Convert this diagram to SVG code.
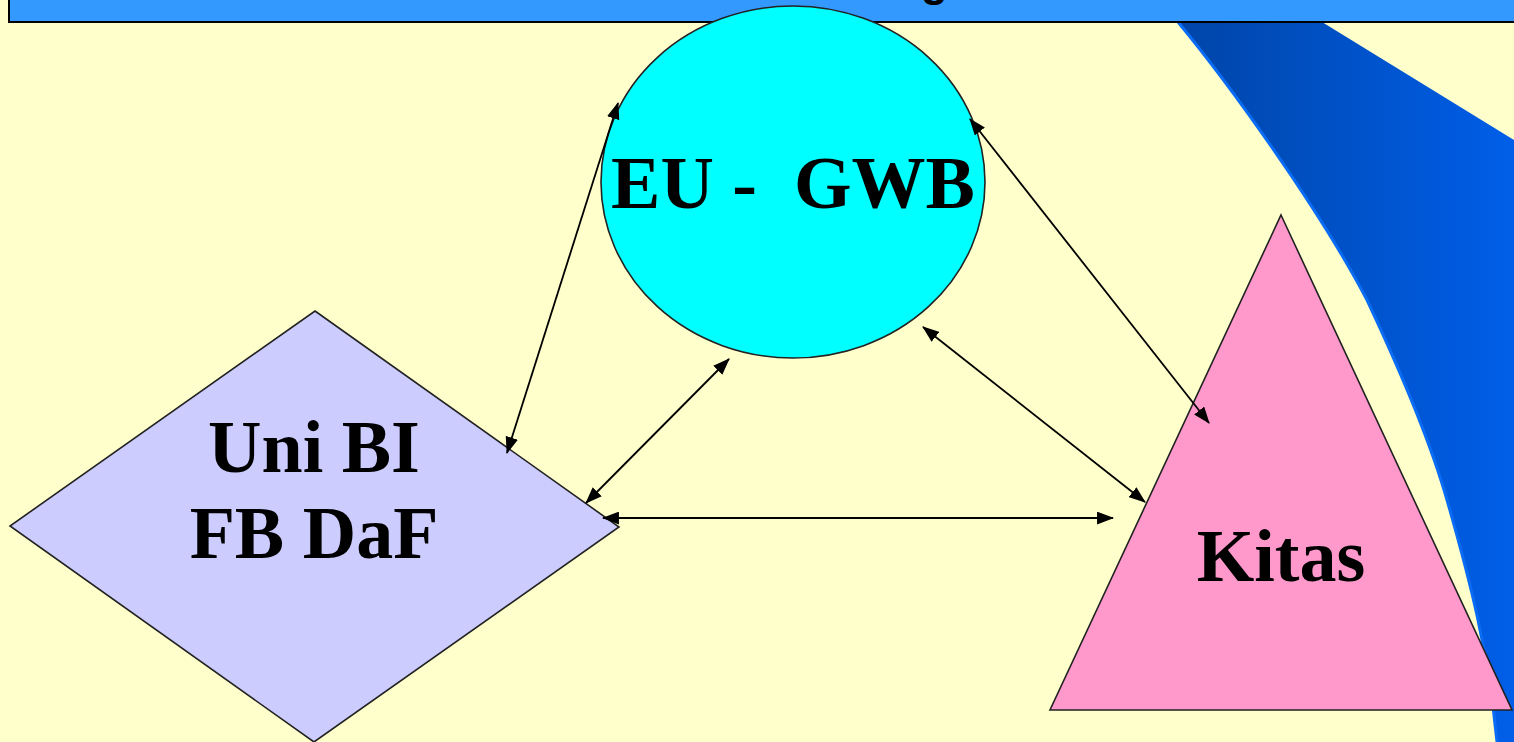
<svg xmlns="http://www.w3.org/2000/svg" width="1514" height="742" viewBox="0 0 1514 742">
<defs>
<style>
.lbl{font-family:"Liberation Serif","Times New Roman",serif;font-weight:bold;font-size:74px;fill:#000;text-anchor:middle}
.shape{stroke:#222;stroke-width:1.6}
.conn{stroke:#000;stroke-width:1.8;fill:none;marker-start:url(#ah);marker-end:url(#ah)}
</style>
<marker id="ah" viewBox="0 0 16 12" refX="15" refY="6" markerWidth="17" markerHeight="13" markerUnits="userSpaceOnUse" orient="auto-start-reverse">
<path d="M0,0 L16,6 L0,12 Z" fill="#000"/>
</marker>
<linearGradient id="sw" x1="1180" y1="0" x2="1514" y2="0" gradientUnits="userSpaceOnUse">
<stop offset="0" stop-color="#0045A8"/>
<stop offset="1" stop-color="#005EE8"/>
</linearGradient>
</defs>
<rect x="0" y="0" width="1514" height="742" fill="#FFFFCC"/>
<g id="swoosh">
<path d="M1178,22 C1230,85 1320,210 1367,300 C1400,370 1430,440 1447,500 C1470,580 1488,650 1497,742 L1514,742 L1514,140 L1322,22 Z" fill="url(#sw)"/>
<path d="M1178,22 C1230,85 1320,210 1367,300 C1400,370 1430,440 1447,500 C1470,580 1488,650 1497,742" fill="none" stroke="#0A6CF5" stroke-width="3"/>
</g>
<g id="titlebar">
<rect x="9" y="-10" width="1515" height="32" fill="#3399FF" stroke="#000" stroke-width="2"/>
<text x="921" y="-4" font-family="Liberation Sans, Arial, sans-serif" font-weight="bold" font-size="44" fill="#000">g</text>
</g>
<g id="node-eu-gwb">
<ellipse cx="793" cy="182" rx="192" ry="176" fill="#00FFFF" class="shape"/>
<text x="793" y="208" class="lbl" xml:space="preserve">EU -  GWB</text>
</g>
<g id="node-uni">
<polygon points="315,311 619,527 314,742 10,526" fill="#CCCCFF" class="shape"/>
<text x="314" y="472" class="lbl">Uni BI</text>
<text x="314" y="558" class="lbl">FB DaF</text>
</g>
<g id="node-kitas">
<polygon points="1281,215 1512,710 1050,710" fill="#FF99CC" class="shape"/>
<text x="1281" y="581" class="lbl">Kitas</text>
</g>
<g id="connectors">
<line x1="507" y1="453" x2="618" y2="103" class="conn"/>
<line x1="586" y1="503" x2="729" y2="359" class="conn"/>
<line x1="603" y1="518" x2="1113" y2="518" class="conn" stroke-width="3"/>
<line x1="923" y1="327" x2="1145" y2="502" class="conn"/>
<line x1="970" y1="119" x2="1209" y2="423" class="conn"/>
</g>
</svg>
